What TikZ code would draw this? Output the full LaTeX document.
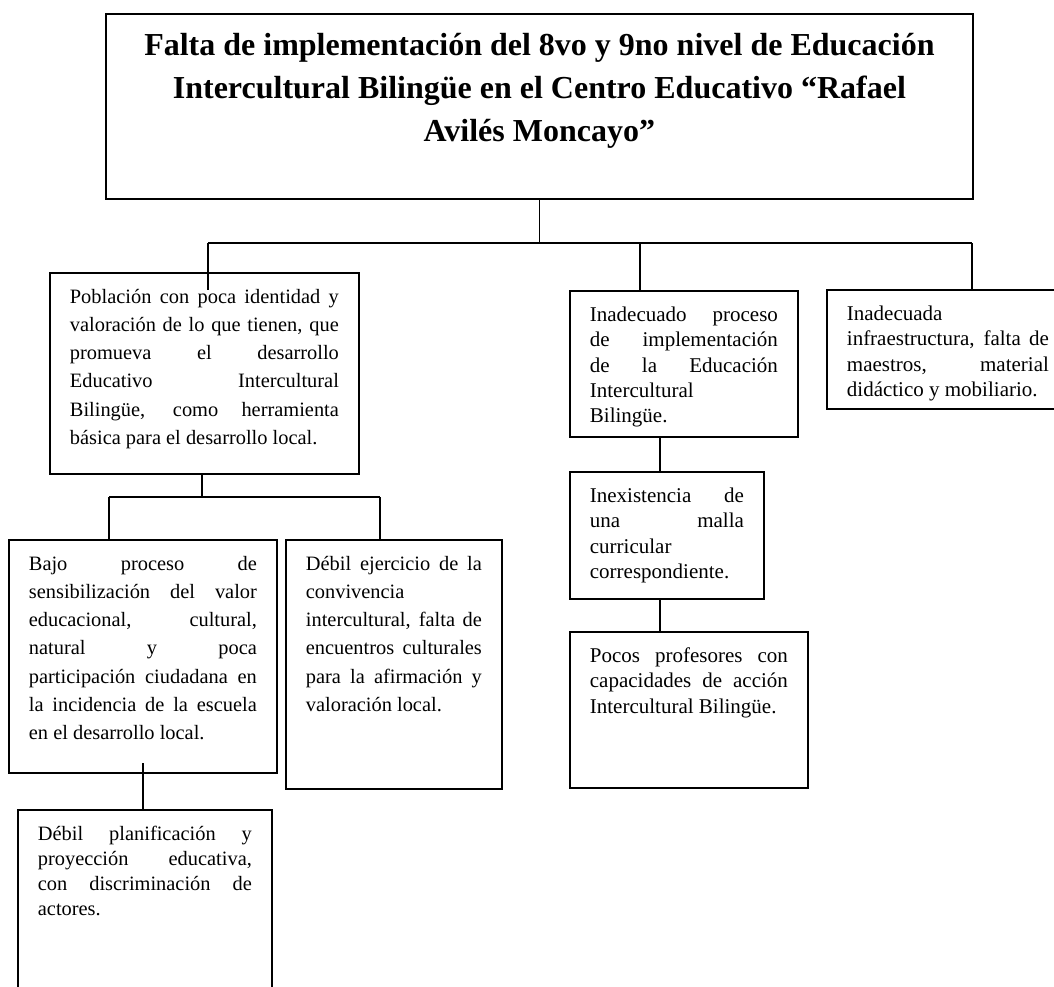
\documentclass[tikz,border=0pt]{standalone}
\usepackage{fontspec}
\setmainfont{Liberation Serif}
\hyphenpenalty=10000
\exhyphenpenalty=10000
\hbadness=10000
\newcommand{\caja}[3]{\parbox[t][#2][t]{#1}{#3}}

\begin{document}
\begin{tikzpicture}[x=1pt,y=-1pt,
  recuadro/.style={draw,line width=1.8pt,anchor=north west,inner xsep=20pt,inner ysep=16pt},
  izq/.style={recuadro,font=\fontsize{20.4pt}{28.3pt}\selectfont},
  der/.style={recuadro,font=\fontsize{21pt}{25.3pt}\selectfont},
  linea/.style={line width=1.8pt}]
\clip (0,0) rectangle (1054,986);

\node[recuadro,inner ysep=19pt,font=\bfseries\fontsize{32pt}{43pt}\selectfont] (tope) at (105,13)
  {\caja{827pt}{147pt}{\centering Falta de implementación del 8vo y 9no nivel de Educación\\
   Intercultural Bilingüe en el Centro Educativo “Rafael\\ Avilés Moncayo”}};

\node[izq] (pobla) at (49,272) {\caja{269pt}{169pt}{Población con poca identidad y\linebreak
  valoración de lo que tienen, que\linebreak promueva el desarrollo\linebreak
  Educativo Intercultural\linebreak Bilingüe, como herramienta\linebreak
  básica para el desarrollo local.}};
\node[izq] (bajo) at (8,539) {\caja{228pt}{201pt}{Bajo proceso de\linebreak
  sensibilización del valor\linebreak educacional, cultural,\linebreak
  natural y poca\linebreak participación ciudadana en\linebreak
  la incidencia de la escuela\linebreak en el desarrollo local.}};
\node[izq] (debil) at (285,539) {\caja{176pt}{217pt}{Débil ejercicio de la\linebreak
  convivencia\\ intercultural, falta de\linebreak encuentros culturales\linebreak
  para la afirmación y\linebreak valoración local.}};
\node[izq,font=\fontsize{20.4pt}{25pt}\selectfont] (plan) at (17,809) {\caja{214pt}{200pt}{Débil planificación y\linebreak
  proyección educativa,\linebreak con discriminación de\linebreak actores.}};

\node[der] (inade) at (569,290) {\caja{188pt}{114pt}{Inadecuado proceso\linebreak
  de implementación\linebreak de la Educación\linebreak Intercultural\\ Bilingüe.}};
\node[der] (malla) at (569,471) {\caja{154pt}{95pt}{Inexistencia de\linebreak
  una malla\linebreak curricular\\ correspondiente.}};
\node[der] (profe) at (569,631) {\caja{198pt}{124pt}{Pocos profesores con\linebreak
  capacidades de acción\linebreak Intercultural Bilingüe.}};
\node[der] (infra) at (826,289) {\caja{202pt}{87pt}{Inadecuada\\
  infraestructura, falta de\linebreak maestros, material\linebreak didáctico y mobiliario.}};

\coordinate (b1) at (208,243);
\coordinate (b2) at (972,243);
\coordinate (b3) at (640,243);
\coordinate (p1) at (208,290);
\coordinate (c0) at (202,497);
\coordinate (c1) at (109,497);
\coordinate (c2) at (380,497);
\coordinate (d0) at (143,763);
\coordinate (e0) at (660,0);

\draw[linea] (tope.south) -- (tope.south |- b1);
\draw[linea] (b1) -- (b2);
\draw[linea] (b1) -- (p1);
\draw[linea] (b3) -- (b3 |- inade.north);
\draw[linea] (b2) -- (b2 |- infra.north);
\draw[linea] (pobla.south -| c0) -- (c0);
\draw[linea] (c1) -- (c2);
\draw[linea] (c1) -- (c1 |- bajo.north);
\draw[linea] (c2) -- (c2 |- debil.north);
\draw[linea] (d0) -- (d0 |- plan.north);
\draw[linea] (inade.south -| e0) -- (malla.north -| e0);
\draw[linea] (malla.south -| e0) -- (profe.north -| e0);
\end{tikzpicture}
\end{document}
